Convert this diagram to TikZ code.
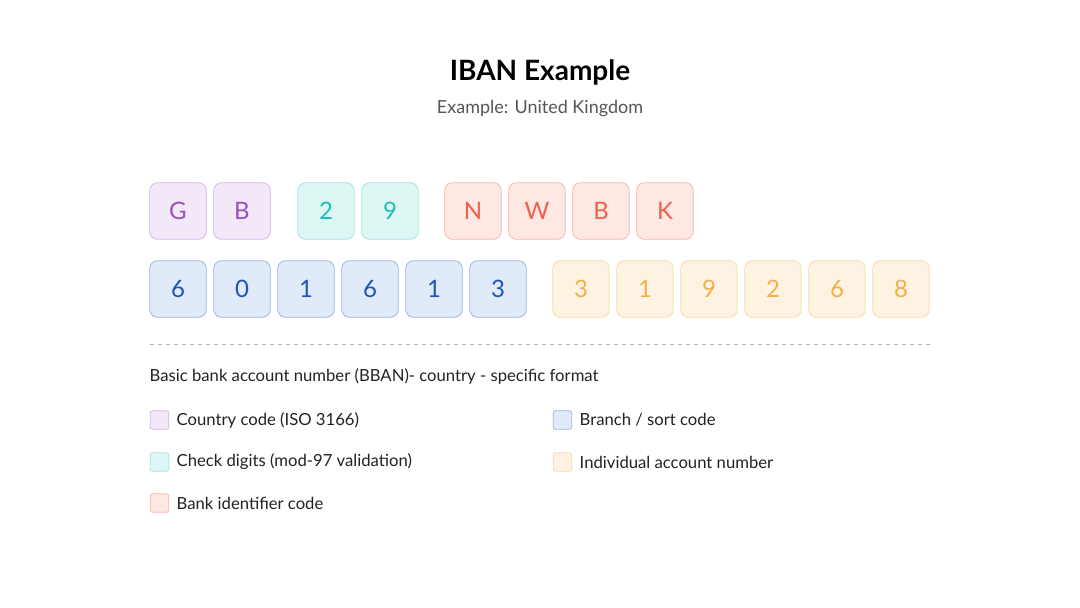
\documentclass[tikz,border=0pt]{standalone}
\usepackage{fontspec}
\setmainfont{Lato}
\usepackage{tikz}

\definecolor{purpF}{HTML}{F3E8F8}\definecolor{purpD}{HTML}{D6B6E4}\definecolor{purpT}{HTML}{9B4FC0}
\definecolor{tealF}{HTML}{DDF7F5}\definecolor{tealD}{HTML}{A6E5E0}\definecolor{tealT}{HTML}{1EBFB5}
\definecolor{redF}{HTML}{FDE8E4}\definecolor{redD}{HTML}{F5B8AD}\definecolor{redT}{HTML}{F0604A}
\definecolor{bluF}{HTML}{E1EAF8}\definecolor{bluD}{HTML}{9DB5E0}\definecolor{bluT}{HTML}{1F55B8}
\definecolor{orgF}{HTML}{FEF3E2}\definecolor{orgD}{HTML}{F8D9A8}\definecolor{orgT}{HTML}{F2B04A}
\definecolor{inkD}{HTML}{222222}\definecolor{inkG}{HTML}{555555}

\tikzset{
  digit/.style={draw=#1D, fill=#1F, text=#1T, rounded corners=6pt, line width=0.6pt,
    minimum width=42.5pt, minimum height=42.5pt, font=\fontsize{18}{18}\selectfont},
  keybox/.style={draw=#1D, fill=#1F, rounded corners=2pt, line width=0.6pt,
    minimum width=14pt, minimum height=14pt},
  keytext/.style={anchor=west, text=inkD, font=\fontsize{12.5}{13}\selectfont}
}

\begin{document}
\begin{tikzpicture}[x=0.75pt,y=0.75pt,yscale=-1,xscale=1]
\useasboundingbox (0,0) rectangle (1080,607);

% Title
\node (title) at (540,72) {\fontsize{21}{22}\selectfont\bfseries IBAN Example};
\node[text=inkG] (sub) at (540,109) {\fontsize{13.5}{14}\selectfont Example: United Kingdom};

% First row
\node[digit=purp] (g1) at (178,211) {G};
\node[digit=purp] (g2) at (242,211) {B};
\node[digit=teal] (c1) at (326,211) {2};
\node[digit=teal] (c2) at (390,211) {9};
\foreach \x/\t [count=\i] in {473/N,537/W,601/B,665/K}
  \node[digit=red] (b\i) at (\x,211) {\t};

% Second row
\foreach \x/\t [count=\i] in {178/6,242/0,306/1,370/6,434/1,498/3}
  \node[digit=blu] (s\i) at (\x,289) {\t};
\foreach \x/\t [count=\i] in {581/3,645/1,709/9,773/2,837/6,901/8}
  \node[digit=org] (a\i) at (\x,289) {\t};

% Divider
\coordinate (dl) at (150,344);
\coordinate (dr) at (930,344);
\draw[gray!60, dashed, line width=0.6pt] (dl) -- (dr);

\node[keytext] (bban) at (145,376) {Basic bank account number (BBAN)- country - specific format};

% Legend
\node[keybox=purp] (k1) at (159.5,420) {};
\node[keytext] at (172,420) {Country code (ISO 3166)};
\node[keybox=teal] (k2) at (159.5,462) {};
\node[keytext] at (172,462) {Check digits (mod-97 validation)};
\node[keybox=red] (k3) at (159.5,503) {};
\node[keytext] at (172,503) {Bank identifier code};
\node[keybox=blu] (k4) at (562.5,420) {};
\node[keytext] at (575,420) {Branch / sort code};
\node[keybox=org] (k5) at (562.5,462) {};
\node[keytext] at (575,462) {Individual account number};

\end{tikzpicture}
\end{document}
